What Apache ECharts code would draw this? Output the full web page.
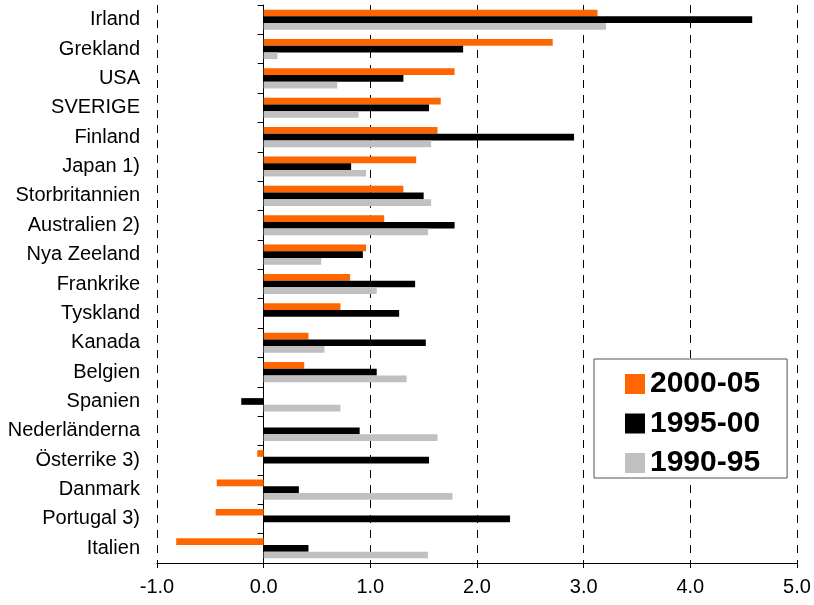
<!DOCTYPE html>
<html>
<head>
<meta charset="utf-8">
<script src="https://cdn.jsdelivr.net/npm/echarts@6/dist/echarts.min.js"></script>
<style>html,body{margin:0;padding:0;background:#fff}#c{width:814px;height:605px}</style>
</head>
<body>
<div id="c"></div>
<script>
const categories = ["Irland","Grekland","USA","SVERIGE","Finland","Japan 1)","Storbritannien","Australien 2)","Nya Zeeland","Frankrike","Tyskland","Kanada","Belgien","Spanien","Nederländerna","Österrike 3)","Danmark","Portugal 3)","Italien"];
const s2000_05 = [3.13,2.71,1.79,1.66,1.63,1.43,1.31,1.13,0.96,0.81,0.72,0.42,0.38,null,null,-0.06,-0.44,-0.45,-0.82];
const s1995_00 = [4.58,1.87,1.31,1.55,2.91,0.82,1.50,1.79,0.93,1.42,1.27,1.52,1.06,-0.21,0.90,1.55,0.33,2.31,0.42];
const s1990_95 = [3.21,0.13,0.69,0.89,1.57,0.96,1.57,1.54,0.54,1.06,null,0.57,1.34,0.72,1.63,null,1.77,null,1.54];
const seriesNames = ["2000-05","1995-00","1990-95"];
const colors = ["#FF6600","#000000","#C0C0C0"];

const chart = echarts.init(document.getElementById('c'));
const font = "Liberation Sans, Arial, sans-serif";
const mk = (name, data, color) => ({
  name, type: 'bar', data, barWidth: 6.7, barGap: '0%',
  itemStyle: { color }, animation: false
});
chart.setOption({
  animation: false,
  textStyle: { fontFamily: font, color: '#000' },
  grid: { left: 157, right: 17, top: 5, bottom: 42, containLabel: false, outerBoundsMode: 'none' },
  legend: {
    orient: 'vertical', left: 594, top: 359,
    data: seriesNames,
    icon: 'rect', itemWidth: 20, itemHeight: 20, itemGap: 9.5, itemTextGap: 8,
    padding: [10, 27, 0, 31],
    borderColor: '#555', borderWidth: 1, backgroundColor: '#fff',
    textStyle: { fontSize: 30, fontWeight: 'bold', color: '#000', fontFamily: font, lineHeight: 30 }
  },
  xAxis: {
    type: 'value', min: -1, max: 5, interval: 1,
    axisLine: { show: true, onZero: false, lineStyle: { color: '#000', width: 1 } },
    axisTick: { show: true, length: 5, lineStyle: { color: '#000' } },
    axisLabel: { fontSize: 20, color: '#000', fontFamily: font, margin: 14, formatter: v => v.toFixed(1) },
    splitLine: { show: true, lineStyle: { color: '#000', type: [8, 7], width: 1 } }
  },
  yAxis: {
    type: 'category', data: categories, inverse: true,
    axisLine: { show: true, onZero: true, lineStyle: { color: '#000', width: 1 } },
    axisTick: { show: true, length: 6, lineStyle: { color: '#000' } },
    axisLabel: { fontSize: 20, color: '#000', fontFamily: font, margin: 17 },
    splitLine: { show: false }
  },
  series: [
    mk(seriesNames[0], s2000_05, colors[0]),
    mk(seriesNames[1], s1995_00, colors[1]),
    mk(seriesNames[2], s1990_95, colors[2])
  ]
});
</script>
</body>
</html>
